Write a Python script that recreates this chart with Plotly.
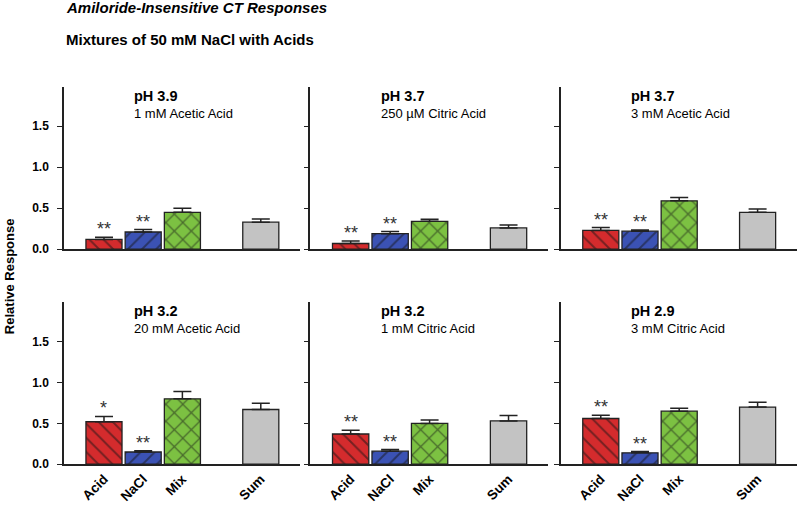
import plotly.graph_objects as go

# Datos (respuesta relativa, media y error estándar)
categorias = ["Acid", "NaCl", "Mix", "Sum"]
orden_eje = ["Acid", "NaCl", "Mix", " ", "Sum"]

panel_ph = ["pH 3.9", "pH 3.7", "pH 3.7", "pH 3.2", "pH 3.2", "pH 2.9"]
panel_acido = ["1 mM Acetic Acid", "250 µM Citric Acid", "3 mM Acetic Acid",
               "20 mM Acetic Acid", "1 mM Citric Acid", "3 mM Citric Acid"]

acid_resp = [0.12, 0.07, 0.23, 0.52, 0.37, 0.56]
acid_err = [0.025, 0.03, 0.035, 0.065, 0.045, 0.04]
nacl_resp = [0.21, 0.19, 0.22, 0.15, 0.16, 0.14]
nacl_err = [0.03, 0.025, 0.015, 0.015, 0.02, 0.015]
mix_resp = [0.45, 0.34, 0.59, 0.80, 0.50, 0.65]
mix_err = [0.05, 0.025, 0.04, 0.09, 0.04, 0.035]
sum_resp = [0.33, 0.26, 0.45, 0.67, 0.53, 0.70]
sum_err = [0.04, 0.035, 0.04, 0.075, 0.065, 0.06]

acid_sig = ["**", "**", "**", "*", "**", "**"]
nacl_sig = ["**", "**", "**", "**", "**", "**"]

respuestas = [acid_resp, nacl_resp, mix_resp, sum_resp]
errores_sem = [acid_err, nacl_err, mix_err, sum_err]
significancia = [acid_sig, nacl_sig]

colores = ["#d42b2d", "#3b52b4", "#7cc142", "#c3c3c3"]
patrones = ["\\", "/", "x", ""]
tam_patron = [10, 10, 12, 8]
FUENTE = "Arial, Liberation Sans, sans-serif"

# Dominios de cada panel (fracción del papel)
x_dom = [[0.080, 0.375], [0.388, 0.685], [0.701, 0.996]]
y_dom = [[0.5035, 0.8271], [0.0752, 0.3975]]

fig = go.Figure()

for i in range(6):
    fila, col = divmod(i, 3)
    n = i + 1
    xa = "x" if n == 1 else f"x{n}"
    ya = "y" if n == 1 else f"y{n}"

    # una traza por categoría para que el patrón tenga trazo negro
    for k, cat in enumerate(categorias):
        fig.add_trace(go.Bar(
            x=[cat], y=[respuestas[k][i]], xaxis=xa, yaxis=ya, width=0.92,
            marker=dict(color=colores[k], line=dict(color="#222", width=1.3),
                        pattern=dict(shape=patrones[k], fillmode="overlay",
                                     fgcolor="#151515", bgcolor=colores[k],
                                     size=tam_patron[k], solidity=0.2)),
            error_y=dict(type="data", array=[errores_sem[k][i]], symmetric=False,
                         arrayminus=[0], color="#222", thickness=1.5, width=9),
            showlegend=False,
        ))

    # Asteriscos de significancia
    for k, sig in enumerate(significancia):
        fig.add_annotation(x=categorias[k], y=respuestas[k][i] + errores_sem[k][i],
                           xref=xa, yref=ya, text=sig[i], showarrow=False,
                           yanchor="bottom", yshift=-4,
                           font=dict(family=FUENTE, size=18, color="#333"))

    # Títulos de panel
    fig.add_annotation(x=0.288, y=0.945, xref=f"{xa} domain", yref=f"{ya} domain",
                       text=f"<b>{panel_ph[i]}</b>", showarrow=False, xanchor="left", yanchor="middle",
                       font=dict(family=FUENTE, size=14.5, color="black"))
    fig.add_annotation(x=0.288, y=0.836, xref=f"{xa} domain", yref=f"{ya} domain",
                       text=panel_acido[i], showarrow=False, xanchor="left", yanchor="middle",
                       font=dict(family=FUENTE, size=13, color="black"))

    key_x = "xaxis" if n == 1 else f"xaxis{n}"
    key_y = "yaxis" if n == 1 else f"yaxis{n}"
    fig.layout[key_x] = dict(
        domain=x_dom[col], anchor=ya, type="category",
        categoryorder="array", categoryarray=orden_eje, range=[-1.02, 5.0],
        tickvals=categorias, ticktext=[f"<b>{c}</b>" for c in categorias],
        showline=True, linecolor="#222", linewidth=1.5, ticks="",
        showticklabels=(fila == 1), tickangle=-45,
        tickfont=dict(family=FUENTE, size=13.5, color="black"),
        showgrid=False, zeroline=False, fixedrange=True,
    )
    fig.layout[key_y] = dict(
        domain=y_dom[fila], anchor=xa, range=[0, 1.98],
        tickvals=[0, 0.5, 1.0, 1.5], ticktext=["<b>0.0</b>", "<b>0.5</b>", "<b>1.0</b>", "<b>1.5</b>"],
        showticklabels=(col == 0), ticks="outside", ticklen=5, tickcolor="#222",
        tickwidth=1.2, ticklabelstandoff=6,
        tickfont=dict(family=FUENTE, size=12, color="black"),
        showline=True, linecolor="#222", linewidth=1.5,
        showgrid=False, zeroline=False, fixedrange=True,
    )

# Títulos generales
fig.add_annotation(x=64 / 800, y=1 - 8 / 509, xref="paper", yref="paper",
                   text="<b><i>Amiloride-Insensitive CT Responses</i></b>", showarrow=False,
                   xanchor="left", yanchor="middle", font=dict(family=FUENTE, size=15, color="black"))
fig.add_annotation(x=64 / 800, y=1 - 40 / 509, xref="paper", yref="paper",
                   text="<b>Mixtures of 50 mM NaCl with Acids</b>", showarrow=False,
                   xanchor="left", yanchor="middle", font=dict(family=FUENTE, size=15, color="black"))
fig.add_annotation(x=9 / 800, y=1 - 280 / 509, xref="paper", yref="paper",
                   text="<b>Relative Response</b>", showarrow=False, textangle=-90,
                   xanchor="center", yanchor="middle", font=dict(family=FUENTE, size=13, color="black"))

fig.update_layout(
    width=800, height=509,
    margin=dict(l=0, r=0, t=0, b=0),
    paper_bgcolor="white", plot_bgcolor="white",
    barmode="overlay",
)

# quitar el margen por defecto del <body> para que la figura empiece en (0, 0)
fig.write_html("out.html", config={"displayModeBar": False},
               post_script="document.body.style.margin='0';")
